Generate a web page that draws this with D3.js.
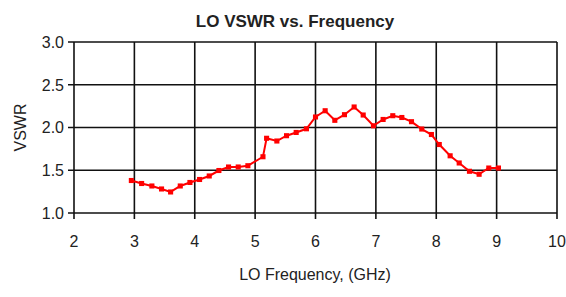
<!DOCTYPE html>
<html lang="en">
<head>
    <meta charset="UTF-8">
    <script src="https://cdn.jsdelivr.net/npm/d3@7/dist/d3.min.js"></script>
    <title>LO VSWR vs. Frequency</title>
    <style>
        body { margin: 0; background: #fff; }
        svg text { font-family: "Liberation Sans", Arial, sans-serif; fill: #222; }
        .grid line { stroke: #111; stroke-width: 1.6px; }
    </style>
</head>
<body>
<svg id="chart" width="566" height="297"></svg>
<script>
    var freq = [2.95, 3.12, 3.29, 3.45, 3.60, 3.76, 3.92, 4.08, 4.24, 4.40,
        4.56, 4.72, 4.88, 5.13, 5.19, 5.36, 5.52, 5.68, 5.85, 6.00,
        6.16, 6.32, 6.48, 6.64, 6.79, 6.96, 7.12, 7.28, 7.43, 7.59,
        7.76, 7.92, 8.05, 8.23, 8.38, 8.55, 8.71, 8.87, 9.03];
    var vswr = [1.38, 1.345, 1.316, 1.281, 1.246, 1.316, 1.357, 1.392, 1.433, 1.497,
        1.538, 1.538, 1.553, 1.658, 1.874, 1.842, 1.904, 1.942, 1.985, 2.123,
        2.196, 2.084, 2.15, 2.24, 2.146, 2.02, 2.094, 2.138, 2.117, 2.068,
        1.982, 1.918, 1.801, 1.669, 1.585, 1.488, 1.453, 1.526, 1.526];
    var xTicks = [2, 3, 4, 5, 6, 7, 8, 9, 10];
    var yTicks = [1.0, 1.5, 2.0, 2.5, 3.0];

    var svg = d3.select("#chart");
    var plotL = 74, plotR = 557, plotT = 42, plotB = 213;

    var x = d3.scaleLinear().domain([2, 10]).range([plotL, plotR]);
    var y = d3.scaleLinear().domain([1, 3]).range([plotB, plotT]);

    // grid lines
    var grid = svg.append("g").attr("class", "grid");
    grid.selectAll("line.v").data(xTicks).enter().append("line")
            .attr("class", "v")
            .attr("x1", function (d) { return x(d); })
            .attr("x2", function (d) { return x(d); })
            .attr("y1", plotT).attr("y2", plotB + 6);
    grid.selectAll("line.h").data(yTicks).enter().append("line")
            .attr("class", "h")
            .attr("y1", function (d) { return y(d); })
            .attr("y2", function (d) { return y(d); })
            .attr("x1", plotL - 6).attr("x2", plotR);

    // tick labels
    svg.append("g").selectAll("text").data(yTicks).enter().append("text")
            .attr("x", plotL - 10)
            .attr("y", function (d) { return y(d); })
            .attr("dy", "0.36em")
            .attr("text-anchor", "end")
            .style("font-size", "16px")
            .text(function (d) { return d.toFixed(1); });

    svg.append("g").selectAll("text").data(xTicks).enter().append("text")
            .attr("x", function (d) { return x(d); })
            .attr("y", 247)
            .attr("text-anchor", "middle")
            .style("font-size", "16px")
            .text(function (d) { return d; });

    // titles
    svg.append("text")
            .attr("x", 295).attr("y", 27)
            .attr("text-anchor", "middle")
            .style("font-size", "17px").style("font-weight", "bold")
            .text("LO VSWR vs. Frequency");

    svg.append("text")
            .attr("x", 315).attr("y", 280)
            .attr("text-anchor", "middle")
            .style("font-size", "16px")
            .text("LO Frequency, (GHz)");

    svg.append("text")
            .attr("transform", "translate(26," + ((plotT + plotB) / 2) + ") rotate(-90)")
            .attr("text-anchor", "middle")
            .style("font-size", "16px")
            .text("VSWR");

    // series
    var pts = freq.map(function (f, i) { return [f, vswr[i]]; });

    svg.append("path")
            .datum(pts)
            .attr("fill", "none")
            .attr("stroke", "#ff0000")
            .attr("stroke-width", 2)
            .attr("d", d3.line()
                    .x(function (d) { return x(d[0]); })
                    .y(function (d) { return y(d[1]); }));

    svg.append("g").selectAll("path").data(pts).enter().append("path")
            .attr("transform", function (d) { return "translate(" + x(d[0]) + "," + y(d[1]) + ")"; })
            .attr("d", d3.symbol().type(d3.symbolSquare).size(26))
            .attr("fill", "#ff0000");
</script>
</body>
</html>
